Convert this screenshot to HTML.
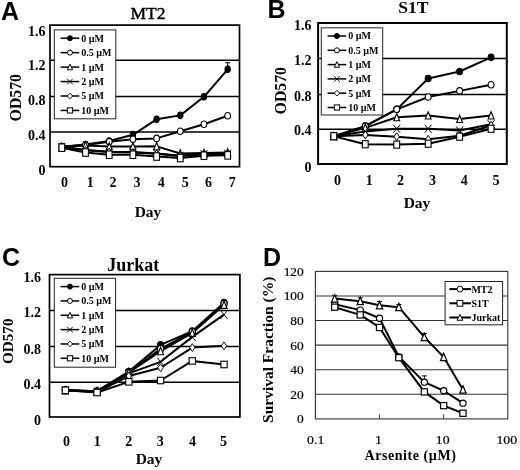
<!DOCTYPE html>
<html><head><meta charset="utf-8"><style>
html,body{margin:0;padding:0;background:#fff;}
svg{display:block;filter:blur(0.35px);}
</style></head><body>
<svg width="520" height="470" viewBox="0 0 520 470">
<rect width="520" height="470" fill="#fff"/>
<text x="1.00" y="19.80" font-family='"Liberation Sans", sans-serif' font-size="25" font-weight="bold" text-anchor="start" >A</text>
<text x="267.50" y="18.20" font-family='"Liberation Sans", sans-serif' font-size="25" font-weight="bold" text-anchor="start" >B</text>
<text x="2.00" y="265.50" font-family='"Liberation Sans", sans-serif' font-size="25" font-weight="bold" text-anchor="start" >C</text>
<text x="263.10" y="265.50" font-family='"Liberation Sans", sans-serif' font-size="25" font-weight="bold" text-anchor="start" >D</text>
<text x="148.00" y="19.00" font-family='"Liberation Serif", serif' font-size="17.5" font-weight="normal" text-anchor="middle" stroke="#000" stroke-width="0.45">MT2</text>
<text x="413.40" y="12.80" font-family='"Liberation Serif", serif' font-size="17.5" font-weight="bold" text-anchor="middle" >S1T</text>
<text x="133.30" y="270.80" font-family='"Liberation Serif", serif' font-size="18" font-weight="bold" text-anchor="middle" >Jurkat</text>
<line x1="50.00" y1="60.30" x2="239.50" y2="60.30" stroke="#000" stroke-width="1.5"/>
<line x1="50.00" y1="96.40" x2="239.50" y2="96.40" stroke="#000" stroke-width="1.5"/>
<line x1="50.00" y1="132.00" x2="239.50" y2="132.00" stroke="#000" stroke-width="1.5"/>
<rect x="50.00" y="25.10" width="189.50" height="141.60" stroke="#000" stroke-width="1.7" fill="none"/>
<polyline points="61.84,146.79 85.53,144.57 109.22,141.03 132.91,134.84 156.59,119.35 180.28,115.37 203.97,96.78 227.66,69.35" fill="none" stroke="#000" stroke-width="2.0" stroke-linejoin="round"/>
<polyline points="61.84,146.79 85.53,144.93 109.22,141.74 132.91,139.26 156.59,138.38 180.28,131.30 203.97,124.22 227.66,115.81" fill="none" stroke="#000" stroke-width="2.0" stroke-linejoin="round"/>
<polyline points="61.84,146.79 85.53,145.46 109.22,146.52 132.91,146.52 156.59,146.34 180.28,153.42 203.97,152.98 227.66,152.54" fill="none" stroke="#000" stroke-width="2.0" stroke-linejoin="round"/>
<polyline points="61.84,146.79 85.53,149.88 109.22,151.66 132.91,152.10 156.59,153.42 180.28,155.64 203.97,153.87 227.66,153.42" fill="none" stroke="#000" stroke-width="2.0" stroke-linejoin="round"/>
<polyline points="61.84,146.79 85.53,150.33 109.22,152.10 132.91,152.54 156.59,153.87 180.28,156.08 203.97,154.31 227.66,153.87" fill="none" stroke="#000" stroke-width="2.0" stroke-linejoin="round"/>
<polyline points="61.84,147.67 85.53,152.54 109.22,154.75 132.91,154.75 156.59,156.52 180.28,158.03 203.97,155.73 227.66,155.37" fill="none" stroke="#000" stroke-width="2.0" stroke-linejoin="round"/>
<ellipse cx="61.84" cy="146.79" rx="2.65" ry="3.25" fill="#000" stroke="#000" stroke-width="1.1"/>
<ellipse cx="85.53" cy="144.57" rx="2.65" ry="3.25" fill="#000" stroke="#000" stroke-width="1.1"/>
<ellipse cx="109.22" cy="141.03" rx="2.65" ry="3.25" fill="#000" stroke="#000" stroke-width="1.1"/>
<ellipse cx="132.91" cy="134.84" rx="2.65" ry="3.25" fill="#000" stroke="#000" stroke-width="1.1"/>
<ellipse cx="156.59" cy="119.35" rx="2.65" ry="3.25" fill="#000" stroke="#000" stroke-width="1.1"/>
<ellipse cx="180.28" cy="115.37" rx="2.65" ry="3.25" fill="#000" stroke="#000" stroke-width="1.1"/>
<ellipse cx="203.97" cy="96.78" rx="2.65" ry="3.25" fill="#000" stroke="#000" stroke-width="1.1"/>
<ellipse cx="227.66" cy="69.35" rx="2.65" ry="3.25" fill="#000" stroke="#000" stroke-width="1.1"/>
<ellipse cx="61.84" cy="146.79" rx="2.85" ry="3.25" fill="#fff" stroke="#000" stroke-width="1.1"/>
<ellipse cx="85.53" cy="144.93" rx="2.85" ry="3.25" fill="#fff" stroke="#000" stroke-width="1.1"/>
<ellipse cx="109.22" cy="141.74" rx="2.85" ry="3.25" fill="#fff" stroke="#000" stroke-width="1.1"/>
<ellipse cx="132.91" cy="139.26" rx="2.85" ry="3.25" fill="#fff" stroke="#000" stroke-width="1.1"/>
<ellipse cx="156.59" cy="138.38" rx="2.85" ry="3.25" fill="#fff" stroke="#000" stroke-width="1.1"/>
<ellipse cx="180.28" cy="131.30" rx="2.85" ry="3.25" fill="#fff" stroke="#000" stroke-width="1.1"/>
<ellipse cx="203.97" cy="124.22" rx="2.85" ry="3.25" fill="#fff" stroke="#000" stroke-width="1.1"/>
<ellipse cx="227.66" cy="115.81" rx="2.85" ry="3.25" fill="#fff" stroke="#000" stroke-width="1.1"/>
<polygon points="61.84,142.95 64.79,150.25 58.89,150.25" fill="#fff" stroke="#000" stroke-width="1.1" stroke-linejoin="miter"/>
<polygon points="85.53,141.63 88.48,148.93 82.58,148.93" fill="#fff" stroke="#000" stroke-width="1.1" stroke-linejoin="miter"/>
<polygon points="109.22,142.69 112.17,149.99 106.27,149.99" fill="#fff" stroke="#000" stroke-width="1.1" stroke-linejoin="miter"/>
<polygon points="132.91,142.69 135.86,149.99 129.96,149.99" fill="#fff" stroke="#000" stroke-width="1.1" stroke-linejoin="miter"/>
<polygon points="156.59,142.51 159.54,149.81 153.64,149.81" fill="#fff" stroke="#000" stroke-width="1.1" stroke-linejoin="miter"/>
<polygon points="180.28,149.59 183.23,156.89 177.33,156.89" fill="#fff" stroke="#000" stroke-width="1.1" stroke-linejoin="miter"/>
<polygon points="203.97,149.15 206.92,156.45 201.02,156.45" fill="#fff" stroke="#000" stroke-width="1.1" stroke-linejoin="miter"/>
<polygon points="227.66,148.71 230.61,156.01 224.71,156.01" fill="#fff" stroke="#000" stroke-width="1.1" stroke-linejoin="miter"/>
<path d="M58.54,142.99L65.14,150.59M58.54,150.59L65.14,142.99" stroke="#000" stroke-width="1.0" fill="none"/>
<path d="M82.23,146.08L88.83,153.69M82.23,153.69L88.83,146.08" stroke="#000" stroke-width="1.0" fill="none"/>
<path d="M105.92,147.85L112.52,155.46M105.92,155.46L112.52,147.85" stroke="#000" stroke-width="1.0" fill="none"/>
<path d="M129.61,148.30L136.21,155.90M129.61,155.90L136.21,148.30" stroke="#000" stroke-width="1.0" fill="none"/>
<path d="M153.29,149.62L159.89,157.22M153.29,157.22L159.89,149.62" stroke="#000" stroke-width="1.0" fill="none"/>
<path d="M176.98,151.84L183.58,159.44M176.98,159.44L183.58,151.84" stroke="#000" stroke-width="1.0" fill="none"/>
<path d="M200.67,150.07L207.27,157.67M200.67,157.67L207.27,150.07" stroke="#000" stroke-width="1.0" fill="none"/>
<path d="M224.36,149.62L230.96,157.22M224.36,157.22L230.96,149.62" stroke="#000" stroke-width="1.0" fill="none"/>
<polygon points="61.84,142.89 64.54,146.79 61.84,150.69 59.14,146.79" fill="#fff" stroke="#000" stroke-width="1.0"/>
<polygon points="85.53,146.43 88.23,150.33 85.53,154.23 82.83,150.33" fill="#fff" stroke="#000" stroke-width="1.0"/>
<polygon points="109.22,148.20 111.92,152.10 109.22,156.00 106.52,152.10" fill="#fff" stroke="#000" stroke-width="1.0"/>
<polygon points="132.91,148.64 135.61,152.54 132.91,156.44 130.21,152.54" fill="#fff" stroke="#000" stroke-width="1.0"/>
<polygon points="156.59,149.97 159.29,153.87 156.59,157.77 153.89,153.87" fill="#fff" stroke="#000" stroke-width="1.0"/>
<polygon points="180.28,152.18 182.98,156.08 180.28,159.98 177.58,156.08" fill="#fff" stroke="#000" stroke-width="1.0"/>
<polygon points="203.97,150.41 206.67,154.31 203.97,158.21 201.27,154.31" fill="#fff" stroke="#000" stroke-width="1.0"/>
<polygon points="227.66,149.97 230.36,153.87 227.66,157.77 224.96,153.87" fill="#fff" stroke="#000" stroke-width="1.0"/>
<rect x="58.99" y="143.92" width="5.70" height="7.50" fill="#fff" stroke="#000" stroke-width="1.1"/>
<rect x="82.68" y="148.79" width="5.70" height="7.50" fill="#fff" stroke="#000" stroke-width="1.1"/>
<rect x="106.37" y="151.00" width="5.70" height="7.50" fill="#fff" stroke="#000" stroke-width="1.1"/>
<rect x="130.06" y="151.00" width="5.70" height="7.50" fill="#fff" stroke="#000" stroke-width="1.1"/>
<rect x="153.74" y="152.77" width="5.70" height="7.50" fill="#fff" stroke="#000" stroke-width="1.1"/>
<rect x="177.43" y="154.28" width="5.70" height="7.50" fill="#fff" stroke="#000" stroke-width="1.1"/>
<rect x="201.12" y="151.98" width="5.70" height="7.50" fill="#fff" stroke="#000" stroke-width="1.1"/>
<rect x="224.81" y="151.62" width="5.70" height="7.50" fill="#fff" stroke="#000" stroke-width="1.1"/>
<line x1="227.66" y1="69.35" x2="227.66" y2="62.71" stroke="#000" stroke-width="1.0"/>
<line x1="225.16" y1="62.71" x2="230.16" y2="62.71" stroke="#000" stroke-width="1.0"/>
<rect x="54.30" y="29.90" width="61.50" height="88.90" stroke="#222" stroke-width="1.0" fill="#fff"/>
<line x1="60.60" y1="38.20" x2="79.30" y2="38.20" stroke="#000" stroke-width="1.5"/>
<ellipse cx="69.95" cy="38.20" rx="2.50" ry="2.50" fill="#000" stroke="#000" stroke-width="1.0"/>
<text x="81.30" y="41.60" font-family='"Liberation Serif", serif' font-size="10" font-weight="bold" text-anchor="start" >0 &#181;M</text>
<line x1="60.60" y1="52.65" x2="79.30" y2="52.65" stroke="#000" stroke-width="1.5"/>
<ellipse cx="69.95" cy="52.65" rx="2.50" ry="2.50" fill="#fff" stroke="#000" stroke-width="1.0"/>
<text x="81.30" y="56.05" font-family='"Liberation Serif", serif' font-size="10" font-weight="bold" text-anchor="start" >0.5 &#181;M</text>
<line x1="60.60" y1="67.10" x2="79.30" y2="67.10" stroke="#000" stroke-width="1.5"/>
<polygon points="69.95,64.16 72.65,69.76 67.25,69.76" fill="#fff" stroke="#000" stroke-width="1.0" stroke-linejoin="miter"/>
<text x="81.30" y="70.50" font-family='"Liberation Serif", serif' font-size="10" font-weight="bold" text-anchor="start" >1 &#181;M</text>
<line x1="60.60" y1="81.55" x2="79.30" y2="81.55" stroke="#000" stroke-width="1.5"/>
<path d="M67.10,78.70L72.80,84.40M67.10,84.40L72.80,78.70" stroke="#000" stroke-width="0.9" fill="none"/>
<text x="81.30" y="84.95" font-family='"Liberation Serif", serif' font-size="10" font-weight="bold" text-anchor="start" >2 &#181;M</text>
<line x1="60.60" y1="96.00" x2="79.30" y2="96.00" stroke="#000" stroke-width="1.5"/>
<polygon points="69.95,93.15 72.60,96.00 69.95,98.85 67.30,96.00" fill="#fff" stroke="#000" stroke-width="0.9"/>
<text x="81.30" y="99.40" font-family='"Liberation Serif", serif' font-size="10" font-weight="bold" text-anchor="start" >5 &#181;M</text>
<line x1="60.60" y1="110.45" x2="79.30" y2="110.45" stroke="#000" stroke-width="1.5"/>
<rect x="67.35" y="107.85" width="5.20" height="5.20" fill="#fff" stroke="#000" stroke-width="1.0"/>
<text x="81.30" y="113.85" font-family='"Liberation Serif", serif' font-size="10" font-weight="bold" text-anchor="start" >10 &#181;M</text>
<text x="45.60" y="35.60" font-family='"Liberation Serif", serif' font-size="14" font-weight="bold" text-anchor="end" >1.6</text>
<text x="45.60" y="69.80" font-family='"Liberation Serif", serif' font-size="14" font-weight="bold" text-anchor="end" >1.2</text>
<text x="45.60" y="104.60" font-family='"Liberation Serif", serif' font-size="14" font-weight="bold" text-anchor="end" >0.8</text>
<text x="45.60" y="139.90" font-family='"Liberation Serif", serif' font-size="14" font-weight="bold" text-anchor="end" >0.4</text>
<text x="45.60" y="174.90" font-family='"Liberation Serif", serif' font-size="14" font-weight="bold" text-anchor="end" >0</text>
<text x="64.60" y="186.80" font-family='"Liberation Serif", serif' font-size="14" font-weight="bold" text-anchor="middle" >0</text>
<text x="90.20" y="186.80" font-family='"Liberation Serif", serif' font-size="14" font-weight="bold" text-anchor="middle" >1</text>
<text x="113.00" y="186.80" font-family='"Liberation Serif", serif' font-size="14" font-weight="bold" text-anchor="middle" >2</text>
<text x="137.00" y="186.80" font-family='"Liberation Serif", serif' font-size="14" font-weight="bold" text-anchor="middle" >3</text>
<text x="161.20" y="186.80" font-family='"Liberation Serif", serif' font-size="14" font-weight="bold" text-anchor="middle" >4</text>
<text x="185.30" y="186.80" font-family='"Liberation Serif", serif' font-size="14" font-weight="bold" text-anchor="middle" >5</text>
<text x="208.60" y="186.80" font-family='"Liberation Serif", serif' font-size="14" font-weight="bold" text-anchor="middle" >6</text>
<text x="232.20" y="186.80" font-family='"Liberation Serif", serif' font-size="14" font-weight="bold" text-anchor="middle" >7</text>
<line x1="318.10" y1="58.60" x2="506.80" y2="58.60" stroke="#000" stroke-width="1.5"/>
<line x1="318.10" y1="94.40" x2="506.80" y2="94.40" stroke="#000" stroke-width="1.5"/>
<line x1="318.10" y1="129.20" x2="506.80" y2="129.20" stroke="#000" stroke-width="1.5"/>
<rect x="318.10" y="23.00" width="188.70" height="141.00" stroke="#000" stroke-width="2.0" fill="none"/>
<polyline points="333.83,136.24 365.28,126.11 396.73,109.36 428.18,78.52 459.62,71.47 491.08,57.37" fill="none" stroke="#000" stroke-width="2.0" stroke-linejoin="round"/>
<polyline points="333.83,136.24 365.28,126.11 396.73,109.36 428.18,97.03 459.62,90.86 491.08,84.69" fill="none" stroke="#000" stroke-width="2.0" stroke-linejoin="round"/>
<polyline points="333.83,136.24 365.28,127.87 396.73,117.29 428.18,115.53 459.62,119.06 491.08,115.53" fill="none" stroke="#000" stroke-width="2.0" stroke-linejoin="round"/>
<polyline points="333.83,136.24 365.28,131.39 396.73,128.75 428.18,128.75 459.62,130.51 491.08,124.34" fill="none" stroke="#000" stroke-width="2.0" stroke-linejoin="round"/>
<polyline points="333.83,136.24 365.28,134.92 396.73,136.68 428.18,139.32 459.62,135.80 491.08,125.22" fill="none" stroke="#000" stroke-width="2.0" stroke-linejoin="round"/>
<polyline points="333.83,136.24 365.28,144.26 396.73,144.61 428.18,143.73 459.62,136.68 491.08,128.75" fill="none" stroke="#000" stroke-width="2.0" stroke-linejoin="round"/>
<ellipse cx="333.83" cy="136.24" rx="2.95" ry="3.25" fill="#000" stroke="#000" stroke-width="1.1"/>
<ellipse cx="365.28" cy="126.11" rx="2.95" ry="3.25" fill="#000" stroke="#000" stroke-width="1.1"/>
<ellipse cx="396.73" cy="109.36" rx="2.95" ry="3.25" fill="#000" stroke="#000" stroke-width="1.1"/>
<ellipse cx="428.18" cy="78.52" rx="2.95" ry="3.25" fill="#000" stroke="#000" stroke-width="1.1"/>
<ellipse cx="459.62" cy="71.47" rx="2.95" ry="3.25" fill="#000" stroke="#000" stroke-width="1.1"/>
<ellipse cx="491.08" cy="57.37" rx="2.95" ry="3.25" fill="#000" stroke="#000" stroke-width="1.1"/>
<ellipse cx="333.83" cy="136.24" rx="2.95" ry="3.25" fill="#fff" stroke="#000" stroke-width="1.1"/>
<ellipse cx="365.28" cy="126.11" rx="2.95" ry="3.25" fill="#fff" stroke="#000" stroke-width="1.1"/>
<ellipse cx="396.73" cy="109.36" rx="2.95" ry="3.25" fill="#fff" stroke="#000" stroke-width="1.1"/>
<ellipse cx="428.18" cy="97.03" rx="2.95" ry="3.25" fill="#fff" stroke="#000" stroke-width="1.1"/>
<ellipse cx="459.62" cy="90.86" rx="2.95" ry="3.25" fill="#fff" stroke="#000" stroke-width="1.1"/>
<ellipse cx="491.08" cy="84.69" rx="2.95" ry="3.25" fill="#fff" stroke="#000" stroke-width="1.1"/>
<polygon points="333.83,132.41 336.78,139.71 330.88,139.71" fill="#fff" stroke="#000" stroke-width="1.1" stroke-linejoin="miter"/>
<polygon points="365.28,124.04 368.23,131.34 362.33,131.34" fill="#fff" stroke="#000" stroke-width="1.1" stroke-linejoin="miter"/>
<polygon points="396.73,113.46 399.68,120.76 393.78,120.76" fill="#fff" stroke="#000" stroke-width="1.1" stroke-linejoin="miter"/>
<polygon points="428.18,111.70 431.12,119.00 425.23,119.00" fill="#fff" stroke="#000" stroke-width="1.1" stroke-linejoin="miter"/>
<polygon points="459.62,115.22 462.57,122.52 456.68,122.52" fill="#fff" stroke="#000" stroke-width="1.1" stroke-linejoin="miter"/>
<polygon points="491.08,111.70 494.03,119.00 488.13,119.00" fill="#fff" stroke="#000" stroke-width="1.1" stroke-linejoin="miter"/>
<path d="M330.33,132.14L337.33,140.34M330.33,140.34L337.33,132.14" stroke="#000" stroke-width="1.0" fill="none"/>
<path d="M361.78,127.29L368.78,135.49M361.78,135.49L368.78,127.29" stroke="#000" stroke-width="1.0" fill="none"/>
<path d="M393.23,124.65L400.23,132.85M393.23,132.85L400.23,124.65" stroke="#000" stroke-width="1.0" fill="none"/>
<path d="M424.68,124.65L431.68,132.85M424.68,132.85L431.68,124.65" stroke="#000" stroke-width="1.0" fill="none"/>
<path d="M456.12,126.41L463.12,134.61M456.12,134.61L463.12,126.41" stroke="#000" stroke-width="1.0" fill="none"/>
<path d="M487.58,120.24L494.58,128.44M487.58,128.44L494.58,120.24" stroke="#000" stroke-width="1.0" fill="none"/>
<polygon points="333.83,132.34 336.53,136.24 333.83,140.14 331.13,136.24" fill="#fff" stroke="#000" stroke-width="1.0"/>
<polygon points="365.28,131.02 367.98,134.92 365.28,138.82 362.58,134.92" fill="#fff" stroke="#000" stroke-width="1.0"/>
<polygon points="396.73,132.78 399.43,136.68 396.73,140.58 394.03,136.68" fill="#fff" stroke="#000" stroke-width="1.0"/>
<polygon points="428.18,135.42 430.88,139.32 428.18,143.22 425.48,139.32" fill="#fff" stroke="#000" stroke-width="1.0"/>
<polygon points="459.62,131.90 462.32,135.80 459.62,139.70 456.93,135.80" fill="#fff" stroke="#000" stroke-width="1.0"/>
<polygon points="491.08,121.32 493.78,125.22 491.08,129.12 488.38,125.22" fill="#fff" stroke="#000" stroke-width="1.0"/>
<rect x="330.93" y="132.69" width="5.80" height="7.10" fill="#fff" stroke="#000" stroke-width="1.1"/>
<rect x="362.38" y="140.71" width="5.80" height="7.10" fill="#fff" stroke="#000" stroke-width="1.1"/>
<rect x="393.83" y="141.06" width="5.80" height="7.10" fill="#fff" stroke="#000" stroke-width="1.1"/>
<rect x="425.28" y="140.18" width="5.80" height="7.10" fill="#fff" stroke="#000" stroke-width="1.1"/>
<rect x="456.73" y="133.13" width="5.80" height="7.10" fill="#fff" stroke="#000" stroke-width="1.1"/>
<rect x="488.18" y="125.20" width="5.80" height="7.10" fill="#fff" stroke="#000" stroke-width="1.1"/>
<rect x="321.30" y="27.80" width="61.40" height="87.20" stroke="#222" stroke-width="1.0" fill="#fff"/>
<line x1="327.60" y1="36.00" x2="346.30" y2="36.00" stroke="#000" stroke-width="1.5"/>
<ellipse cx="336.95" cy="36.00" rx="2.50" ry="2.50" fill="#000" stroke="#000" stroke-width="1.0"/>
<text x="348.30" y="39.40" font-family='"Liberation Serif", serif' font-size="10" font-weight="bold" text-anchor="start" >0 &#181;M</text>
<line x1="327.60" y1="50.30" x2="346.30" y2="50.30" stroke="#000" stroke-width="1.5"/>
<ellipse cx="336.95" cy="50.30" rx="2.50" ry="2.50" fill="#fff" stroke="#000" stroke-width="1.0"/>
<text x="348.30" y="53.70" font-family='"Liberation Serif", serif' font-size="10" font-weight="bold" text-anchor="start" >0.5 &#181;M</text>
<line x1="327.60" y1="64.60" x2="346.30" y2="64.60" stroke="#000" stroke-width="1.5"/>
<polygon points="336.95,61.66 339.65,67.26 334.25,67.26" fill="#fff" stroke="#000" stroke-width="1.0" stroke-linejoin="miter"/>
<text x="348.30" y="68.00" font-family='"Liberation Serif", serif' font-size="10" font-weight="bold" text-anchor="start" >1 &#181;M</text>
<line x1="327.60" y1="78.90" x2="346.30" y2="78.90" stroke="#000" stroke-width="1.5"/>
<path d="M334.10,76.05L339.80,81.75M334.10,81.75L339.80,76.05" stroke="#000" stroke-width="0.9" fill="none"/>
<text x="348.30" y="82.30" font-family='"Liberation Serif", serif' font-size="10" font-weight="bold" text-anchor="start" >2 &#181;M</text>
<line x1="327.60" y1="93.20" x2="346.30" y2="93.20" stroke="#000" stroke-width="1.5"/>
<polygon points="336.95,90.35 339.60,93.20 336.95,96.05 334.30,93.20" fill="#fff" stroke="#000" stroke-width="0.9"/>
<text x="348.30" y="96.60" font-family='"Liberation Serif", serif' font-size="10" font-weight="bold" text-anchor="start" >5 &#181;M</text>
<line x1="327.60" y1="107.50" x2="346.30" y2="107.50" stroke="#000" stroke-width="1.5"/>
<rect x="334.35" y="104.90" width="5.20" height="5.20" fill="#fff" stroke="#000" stroke-width="1.0"/>
<text x="348.30" y="110.90" font-family='"Liberation Serif", serif' font-size="10" font-weight="bold" text-anchor="start" >10 &#181;M</text>
<text x="311.40" y="29.90" font-family='"Liberation Serif", serif' font-size="14" font-weight="bold" text-anchor="end" >1.6</text>
<text x="311.40" y="65.00" font-family='"Liberation Serif", serif' font-size="14" font-weight="bold" text-anchor="end" >1.2</text>
<text x="311.40" y="100.70" font-family='"Liberation Serif", serif' font-size="14" font-weight="bold" text-anchor="end" >0.8</text>
<text x="311.40" y="135.00" font-family='"Liberation Serif", serif' font-size="14" font-weight="bold" text-anchor="end" >0.4</text>
<text x="311.40" y="171.70" font-family='"Liberation Serif", serif' font-size="14" font-weight="bold" text-anchor="end" >0</text>
<text x="337.60" y="184.50" font-family='"Liberation Serif", serif' font-size="14" font-weight="bold" text-anchor="middle" >0</text>
<text x="369.20" y="184.50" font-family='"Liberation Serif", serif' font-size="14" font-weight="bold" text-anchor="middle" >1</text>
<text x="400.40" y="184.50" font-family='"Liberation Serif", serif' font-size="14" font-weight="bold" text-anchor="middle" >2</text>
<text x="432.50" y="184.50" font-family='"Liberation Serif", serif' font-size="14" font-weight="bold" text-anchor="middle" >3</text>
<text x="464.30" y="184.50" font-family='"Liberation Serif", serif' font-size="14" font-weight="bold" text-anchor="middle" >4</text>
<text x="495.90" y="184.50" font-family='"Liberation Serif", serif' font-size="14" font-weight="bold" text-anchor="middle" >5</text>
<line x1="49.50" y1="310.40" x2="239.90" y2="310.40" stroke="#000" stroke-width="1.5"/>
<line x1="49.50" y1="346.50" x2="239.90" y2="346.50" stroke="#000" stroke-width="1.5"/>
<line x1="49.50" y1="382.30" x2="239.90" y2="382.30" stroke="#000" stroke-width="1.5"/>
<rect x="49.50" y="274.60" width="190.40" height="142.40" stroke="#000" stroke-width="1.7" fill="none"/>
<polyline points="65.37,390.30 97.10,391.19 128.83,371.61 160.57,344.91 192.30,331.12 224.03,302.64" fill="none" stroke="#000" stroke-width="2.0" stroke-linejoin="round"/>
<polyline points="65.37,390.30 97.10,391.19 128.83,372.50 160.57,348.92 192.30,332.00 224.03,303.97" fill="none" stroke="#000" stroke-width="2.0" stroke-linejoin="round"/>
<polyline points="65.37,390.30 97.10,391.19 128.83,372.50 160.57,351.14 192.30,332.90 224.03,304.86" fill="none" stroke="#000" stroke-width="2.0" stroke-linejoin="round"/>
<polyline points="65.37,390.30 97.10,391.63 128.83,373.39 160.57,361.82 192.30,336.90 224.03,314.65" fill="none" stroke="#000" stroke-width="2.0" stroke-linejoin="round"/>
<polyline points="65.37,390.30 97.10,392.08 128.83,376.06 160.57,367.78 192.30,347.58 224.03,345.80" fill="none" stroke="#000" stroke-width="2.0" stroke-linejoin="round"/>
<polyline points="65.37,390.30 97.10,392.52 128.83,381.85 160.57,380.51 192.30,360.93 224.03,364.49" fill="none" stroke="#000" stroke-width="2.0" stroke-linejoin="round"/>
<ellipse cx="65.37" cy="390.30" rx="3.05" ry="3.25" fill="#000" stroke="#000" stroke-width="1.1"/>
<ellipse cx="97.10" cy="391.19" rx="3.05" ry="3.25" fill="#000" stroke="#000" stroke-width="1.1"/>
<ellipse cx="128.83" cy="371.61" rx="3.05" ry="3.25" fill="#000" stroke="#000" stroke-width="1.1"/>
<ellipse cx="160.57" cy="344.91" rx="3.05" ry="3.25" fill="#000" stroke="#000" stroke-width="1.1"/>
<ellipse cx="192.30" cy="331.12" rx="3.05" ry="3.25" fill="#000" stroke="#000" stroke-width="1.1"/>
<ellipse cx="224.03" cy="302.64" rx="3.05" ry="3.25" fill="#000" stroke="#000" stroke-width="1.1"/>
<ellipse cx="65.37" cy="390.30" rx="3.10" ry="3.45" fill="#fff" stroke="#000" stroke-width="1.1"/>
<ellipse cx="97.10" cy="391.19" rx="3.10" ry="3.45" fill="#fff" stroke="#000" stroke-width="1.1"/>
<ellipse cx="128.83" cy="372.50" rx="3.10" ry="3.45" fill="#fff" stroke="#000" stroke-width="1.1"/>
<ellipse cx="160.57" cy="348.92" rx="3.10" ry="3.45" fill="#fff" stroke="#000" stroke-width="1.1"/>
<ellipse cx="192.30" cy="332.00" rx="3.10" ry="3.45" fill="#fff" stroke="#000" stroke-width="1.1"/>
<ellipse cx="224.03" cy="303.97" rx="3.10" ry="3.45" fill="#fff" stroke="#000" stroke-width="1.1"/>
<polygon points="65.37,386.36 68.42,393.86 62.32,393.86" fill="#fff" stroke="#000" stroke-width="1.1" stroke-linejoin="miter"/>
<polygon points="97.10,387.25 100.15,394.75 94.05,394.75" fill="#fff" stroke="#000" stroke-width="1.1" stroke-linejoin="miter"/>
<polygon points="128.83,368.56 131.88,376.06 125.78,376.06" fill="#fff" stroke="#000" stroke-width="1.1" stroke-linejoin="miter"/>
<polygon points="160.57,347.20 163.62,354.70 157.52,354.70" fill="#fff" stroke="#000" stroke-width="1.1" stroke-linejoin="miter"/>
<polygon points="192.30,328.96 195.35,336.46 189.25,336.46" fill="#fff" stroke="#000" stroke-width="1.1" stroke-linejoin="miter"/>
<polygon points="224.03,300.92 227.08,308.42 220.98,308.42" fill="#fff" stroke="#000" stroke-width="1.1" stroke-linejoin="miter"/>
<path d="M61.92,386.05L68.82,394.55M61.92,394.55L68.82,386.05" stroke="#000" stroke-width="0.9" fill="none"/>
<path d="M93.65,387.38L100.55,395.88M93.65,395.88L100.55,387.38" stroke="#000" stroke-width="0.9" fill="none"/>
<path d="M125.38,369.14L132.28,377.64M125.38,377.64L132.28,369.14" stroke="#000" stroke-width="0.9" fill="none"/>
<path d="M157.12,357.57L164.02,366.07M157.12,366.07L164.02,357.57" stroke="#000" stroke-width="0.9" fill="none"/>
<path d="M188.85,332.65L195.75,341.15M188.85,341.15L195.75,332.65" stroke="#000" stroke-width="0.9" fill="none"/>
<path d="M220.58,310.40L227.48,318.90M220.58,318.90L227.48,310.40" stroke="#000" stroke-width="0.9" fill="none"/>
<polygon points="65.37,386.35 68.02,390.30 65.37,394.25 62.72,390.30" fill="#fff" stroke="#000" stroke-width="0.9"/>
<polygon points="97.10,388.13 99.75,392.08 97.10,396.03 94.45,392.08" fill="#fff" stroke="#000" stroke-width="0.9"/>
<polygon points="128.83,372.11 131.48,376.06 128.83,380.01 126.18,376.06" fill="#fff" stroke="#000" stroke-width="0.9"/>
<polygon points="160.57,363.83 163.22,367.78 160.57,371.73 157.92,367.78" fill="#fff" stroke="#000" stroke-width="0.9"/>
<polygon points="192.30,343.63 194.95,347.58 192.30,351.53 189.65,347.58" fill="#fff" stroke="#000" stroke-width="0.9"/>
<polygon points="224.03,341.85 226.68,345.80 224.03,349.75 221.38,345.80" fill="#fff" stroke="#000" stroke-width="0.9"/>
<rect x="62.22" y="387.05" width="6.30" height="6.50" fill="#fff" stroke="#000" stroke-width="1.1"/>
<rect x="93.95" y="389.27" width="6.30" height="6.50" fill="#fff" stroke="#000" stroke-width="1.1"/>
<rect x="125.68" y="378.60" width="6.30" height="6.50" fill="#fff" stroke="#000" stroke-width="1.1"/>
<rect x="157.42" y="377.26" width="6.30" height="6.50" fill="#fff" stroke="#000" stroke-width="1.1"/>
<rect x="189.15" y="357.68" width="6.30" height="6.50" fill="#fff" stroke="#000" stroke-width="1.1"/>
<rect x="220.88" y="361.24" width="6.30" height="6.50" fill="#fff" stroke="#000" stroke-width="1.1"/>
<rect x="54.30" y="278.30" width="61.30" height="88.90" stroke="#222" stroke-width="1.0" fill="#fff"/>
<line x1="60.60" y1="286.60" x2="79.30" y2="286.60" stroke="#000" stroke-width="1.5"/>
<ellipse cx="69.95" cy="286.60" rx="2.50" ry="2.50" fill="#000" stroke="#000" stroke-width="1.0"/>
<text x="81.30" y="290.00" font-family='"Liberation Serif", serif' font-size="10" font-weight="bold" text-anchor="start" >0 &#181;M</text>
<line x1="60.60" y1="300.94" x2="79.30" y2="300.94" stroke="#000" stroke-width="1.5"/>
<ellipse cx="69.95" cy="300.94" rx="2.50" ry="2.50" fill="#fff" stroke="#000" stroke-width="1.0"/>
<text x="81.30" y="304.34" font-family='"Liberation Serif", serif' font-size="10" font-weight="bold" text-anchor="start" >0.5 &#181;M</text>
<line x1="60.60" y1="315.28" x2="79.30" y2="315.28" stroke="#000" stroke-width="1.5"/>
<polygon points="69.95,312.34 72.65,317.94 67.25,317.94" fill="#fff" stroke="#000" stroke-width="1.0" stroke-linejoin="miter"/>
<text x="81.30" y="318.68" font-family='"Liberation Serif", serif' font-size="10" font-weight="bold" text-anchor="start" >1 &#181;M</text>
<line x1="60.60" y1="329.62" x2="79.30" y2="329.62" stroke="#000" stroke-width="1.5"/>
<path d="M67.10,326.77L72.80,332.47M67.10,332.47L72.80,326.77" stroke="#000" stroke-width="0.9" fill="none"/>
<text x="81.30" y="333.02" font-family='"Liberation Serif", serif' font-size="10" font-weight="bold" text-anchor="start" >2 &#181;M</text>
<line x1="60.60" y1="343.96" x2="79.30" y2="343.96" stroke="#000" stroke-width="1.5"/>
<polygon points="69.95,341.11 72.60,343.96 69.95,346.81 67.30,343.96" fill="#fff" stroke="#000" stroke-width="0.9"/>
<text x="81.30" y="347.36" font-family='"Liberation Serif", serif' font-size="10" font-weight="bold" text-anchor="start" >5 &#181;M</text>
<line x1="60.60" y1="358.30" x2="79.30" y2="358.30" stroke="#000" stroke-width="1.5"/>
<rect x="67.35" y="355.70" width="5.20" height="5.20" fill="#fff" stroke="#000" stroke-width="1.0"/>
<text x="81.30" y="361.70" font-family='"Liberation Serif", serif' font-size="10" font-weight="bold" text-anchor="start" >10 &#181;M</text>
<text x="41.00" y="281.80" font-family='"Liberation Serif", serif' font-size="14" font-weight="bold" text-anchor="end" >1.6</text>
<text x="41.00" y="317.20" font-family='"Liberation Serif", serif' font-size="14" font-weight="bold" text-anchor="end" >1.2</text>
<text x="41.00" y="353.60" font-family='"Liberation Serif", serif' font-size="14" font-weight="bold" text-anchor="end" >0.8</text>
<text x="41.00" y="388.80" font-family='"Liberation Serif", serif' font-size="14" font-weight="bold" text-anchor="end" >0.4</text>
<text x="41.00" y="425.20" font-family='"Liberation Serif", serif' font-size="14" font-weight="bold" text-anchor="end" >0</text>
<text x="66.40" y="446.20" font-family='"Liberation Serif", serif' font-size="14" font-weight="bold" text-anchor="middle" >0</text>
<text x="97.20" y="446.20" font-family='"Liberation Serif", serif' font-size="14" font-weight="bold" text-anchor="middle" >1</text>
<text x="128.80" y="446.20" font-family='"Liberation Serif", serif' font-size="14" font-weight="bold" text-anchor="middle" >2</text>
<text x="160.30" y="446.20" font-family='"Liberation Serif", serif' font-size="14" font-weight="bold" text-anchor="middle" >3</text>
<text x="192.60" y="446.20" font-family='"Liberation Serif", serif' font-size="14" font-weight="bold" text-anchor="middle" >4</text>
<text x="223.60" y="446.20" font-family='"Liberation Serif", serif' font-size="14" font-weight="bold" text-anchor="middle" >5</text>
<line x1="315.40" y1="394.32" x2="507.80" y2="394.32" stroke="#333" stroke-width="1.1"/>
<line x1="315.40" y1="369.73" x2="507.80" y2="369.73" stroke="#333" stroke-width="1.1"/>
<line x1="315.40" y1="345.15" x2="507.80" y2="345.15" stroke="#333" stroke-width="1.1"/>
<line x1="315.40" y1="320.57" x2="507.80" y2="320.57" stroke="#333" stroke-width="1.1"/>
<line x1="315.40" y1="295.98" x2="507.80" y2="295.98" stroke="#333" stroke-width="1.1"/>
<rect x="315.40" y="271.40" width="192.40" height="147.50" stroke="#333" stroke-width="1.1" fill="none"/>
<line x1="379.53" y1="418.90" x2="379.53" y2="414.40" stroke="#333" stroke-width="1.0"/>
<line x1="443.67" y1="418.90" x2="443.67" y2="414.40" stroke="#333" stroke-width="1.0"/>
<polyline points="334.71,304.34 360.23,310.12 379.53,318.23 398.84,356.83 424.36,382.15 443.67,390.75 462.97,403.17" fill="none" stroke="#000" stroke-width="2.0" stroke-linejoin="round"/>
<polyline points="334.71,307.17 360.23,314.91 379.53,327.45 398.84,357.69 424.36,391.86 443.67,405.62 462.97,413.25" fill="none" stroke="#000" stroke-width="2.0" stroke-linejoin="round"/>
<polyline points="334.71,298.56 360.23,301.15 379.53,305.32 398.84,307.17 424.36,337.04 443.67,357.07 462.97,389.65" fill="none" stroke="#000" stroke-width="2.0" stroke-linejoin="round"/>
<line x1="334.71" y1="298.56" x2="334.71" y2="295.37" stroke="#000" stroke-width="1.0"/>
<line x1="332.21" y1="295.37" x2="337.21" y2="295.37" stroke="#000" stroke-width="1.0"/>
<line x1="360.23" y1="301.15" x2="360.23" y2="297.83" stroke="#000" stroke-width="1.0"/>
<line x1="357.73" y1="297.83" x2="362.73" y2="297.83" stroke="#000" stroke-width="1.0"/>
<line x1="379.53" y1="305.32" x2="379.53" y2="301.51" stroke="#000" stroke-width="1.0"/>
<line x1="377.03" y1="301.51" x2="382.03" y2="301.51" stroke="#000" stroke-width="1.0"/>
<line x1="398.84" y1="307.17" x2="398.84" y2="304.59" stroke="#000" stroke-width="1.0"/>
<line x1="396.34" y1="304.59" x2="401.34" y2="304.59" stroke="#000" stroke-width="1.0"/>
<line x1="424.36" y1="337.04" x2="424.36" y2="333.47" stroke="#000" stroke-width="1.0"/>
<line x1="421.86" y1="333.47" x2="426.86" y2="333.47" stroke="#000" stroke-width="1.0"/>
<line x1="424.36" y1="382.15" x2="424.36" y2="375.88" stroke="#000" stroke-width="1.0"/>
<line x1="421.86" y1="375.88" x2="426.86" y2="375.88" stroke="#000" stroke-width="1.0"/>
<ellipse cx="334.71" cy="304.34" rx="3.10" ry="3.10" fill="#fff" stroke="#000" stroke-width="1.2"/>
<ellipse cx="360.23" cy="310.12" rx="3.10" ry="3.10" fill="#fff" stroke="#000" stroke-width="1.2"/>
<ellipse cx="379.53" cy="318.23" rx="3.10" ry="3.10" fill="#fff" stroke="#000" stroke-width="1.2"/>
<ellipse cx="398.84" cy="356.83" rx="3.10" ry="3.10" fill="#fff" stroke="#000" stroke-width="1.2"/>
<ellipse cx="424.36" cy="382.15" rx="3.10" ry="3.10" fill="#fff" stroke="#000" stroke-width="1.2"/>
<ellipse cx="443.67" cy="390.75" rx="3.10" ry="3.10" fill="#fff" stroke="#000" stroke-width="1.2"/>
<ellipse cx="462.97" cy="403.17" rx="3.10" ry="3.10" fill="#fff" stroke="#000" stroke-width="1.2"/>
<rect x="331.61" y="304.07" width="6.20" height="6.20" fill="#fff" stroke="#000" stroke-width="1.2"/>
<rect x="357.13" y="311.81" width="6.20" height="6.20" fill="#fff" stroke="#000" stroke-width="1.2"/>
<rect x="376.43" y="324.35" width="6.20" height="6.20" fill="#fff" stroke="#000" stroke-width="1.2"/>
<rect x="395.74" y="354.59" width="6.20" height="6.20" fill="#fff" stroke="#000" stroke-width="1.2"/>
<rect x="421.26" y="388.76" width="6.20" height="6.20" fill="#fff" stroke="#000" stroke-width="1.2"/>
<rect x="440.57" y="402.52" width="6.20" height="6.20" fill="#fff" stroke="#000" stroke-width="1.2"/>
<rect x="459.87" y="410.15" width="6.20" height="6.20" fill="#fff" stroke="#000" stroke-width="1.2"/>
<polygon points="334.71,294.68 337.91,302.08 331.51,302.08" fill="#fff" stroke="#000" stroke-width="1.2" stroke-linejoin="miter"/>
<polygon points="360.23,297.26 363.43,304.66 357.03,304.66" fill="#fff" stroke="#000" stroke-width="1.2" stroke-linejoin="miter"/>
<polygon points="379.53,301.44 382.73,308.84 376.33,308.84" fill="#fff" stroke="#000" stroke-width="1.2" stroke-linejoin="miter"/>
<polygon points="398.84,303.28 402.04,310.68 395.64,310.68" fill="#fff" stroke="#000" stroke-width="1.2" stroke-linejoin="miter"/>
<polygon points="424.36,333.15 427.56,340.55 421.16,340.55" fill="#fff" stroke="#000" stroke-width="1.2" stroke-linejoin="miter"/>
<polygon points="443.67,353.19 446.87,360.59 440.47,360.59" fill="#fff" stroke="#000" stroke-width="1.2" stroke-linejoin="miter"/>
<polygon points="462.97,385.76 466.17,393.16 459.77,393.16" fill="#fff" stroke="#000" stroke-width="1.2" stroke-linejoin="miter"/>
<rect x="445.10" y="281.50" width="57.50" height="43.30" stroke="#222" stroke-width="1.0" fill="#fff"/>
<line x1="449.40" y1="289.10" x2="471.00" y2="289.10" stroke="#000" stroke-width="2.0"/>
<ellipse cx="459.90" cy="289.10" rx="2.90" ry="2.90" fill="#fff" stroke="#000" stroke-width="1.0"/>
<text x="471.40" y="292.50" font-family='"Liberation Serif", serif' font-size="10" font-weight="bold" text-anchor="start" >MT2</text>
<line x1="449.40" y1="303.30" x2="471.00" y2="303.30" stroke="#000" stroke-width="2.0"/>
<rect x="457.00" y="300.40" width="5.80" height="5.80" fill="#fff" stroke="#000" stroke-width="1.0"/>
<text x="471.40" y="306.70" font-family='"Liberation Serif", serif' font-size="10" font-weight="bold" text-anchor="start" >S1T</text>
<line x1="449.40" y1="317.50" x2="471.00" y2="317.50" stroke="#000" stroke-width="2.0"/>
<polygon points="459.90,314.45 462.80,320.25 457.00,320.25" fill="#fff" stroke="#000" stroke-width="1.0" stroke-linejoin="miter"/>
<text x="471.40" y="320.90" font-family='"Liberation Serif", serif' font-size="10" font-weight="bold" text-anchor="start" >Jurkat</text>
<text x="0" y="0" font-family='"Liberation Serif", serif' font-size="11.9" text-anchor="end" stroke="#000" stroke-width="0.18" transform="translate(303.8,275.80) scale(1.13,1)">120</text>
<text x="0" y="0" font-family='"Liberation Serif", serif' font-size="11.9" text-anchor="end" stroke="#000" stroke-width="0.18" transform="translate(303.8,300.40) scale(1.13,1)">100</text>
<text x="0" y="0" font-family='"Liberation Serif", serif' font-size="11.9" text-anchor="end" stroke="#000" stroke-width="0.18" transform="translate(303.8,325.00) scale(1.13,1)">80</text>
<text x="0" y="0" font-family='"Liberation Serif", serif' font-size="11.9" text-anchor="end" stroke="#000" stroke-width="0.18" transform="translate(303.8,349.60) scale(1.13,1)">60</text>
<text x="0" y="0" font-family='"Liberation Serif", serif' font-size="11.9" text-anchor="end" stroke="#000" stroke-width="0.18" transform="translate(303.8,374.20) scale(1.13,1)">40</text>
<text x="0" y="0" font-family='"Liberation Serif", serif' font-size="11.9" text-anchor="end" stroke="#000" stroke-width="0.18" transform="translate(303.8,398.80) scale(1.13,1)">20</text>
<text x="0" y="0" font-family='"Liberation Serif", serif' font-size="11.9" text-anchor="end" stroke="#000" stroke-width="0.18" transform="translate(303.8,423.40) scale(1.13,1)">0</text>
<text x="0" y="0" font-family='"Liberation Serif", serif' font-size="11.9" text-anchor="middle" stroke="#000" stroke-width="0.18" transform="translate(315.70,443.6) scale(1.16,1)">0.1</text>
<text x="0" y="0" font-family='"Liberation Serif", serif' font-size="11.9" text-anchor="middle" stroke="#000" stroke-width="0.18" transform="translate(378.53,443.6) scale(1.16,1)">1</text>
<text x="0" y="0" font-family='"Liberation Serif", serif' font-size="11.9" text-anchor="middle" stroke="#000" stroke-width="0.18" transform="translate(442.67,443.6) scale(1.16,1)">10</text>
<text x="0" y="0" font-family='"Liberation Serif", serif' font-size="11.9" text-anchor="middle" stroke="#000" stroke-width="0.18" transform="translate(506.80,443.6) scale(1.16,1)">100</text>
<text x="410.50" y="460.30" font-family='"Liberation Serif", serif' font-size="14" font-weight="bold" text-anchor="middle" letter-spacing="0.55">Arsenite (&#181;M)</text>
<text x="0" y="0" font-family='"Liberation Serif", serif' font-size="15.5" font-weight="bold" text-anchor="middle" transform="translate(273.3,349.8) rotate(-90)">Survival Fraction  (%)</text>
<text x="148.00" y="217.30" font-family='"Liberation Serif", serif' font-size="15.5" font-weight="bold" text-anchor="middle" >Day</text>
<text x="417.00" y="207.90" font-family='"Liberation Serif", serif' font-size="15.5" font-weight="bold" text-anchor="middle" >Day</text>
<text x="149.00" y="464.00" font-family='"Liberation Serif", serif' font-size="15.5" font-weight="bold" text-anchor="middle" >Day</text>
<text x="0" y="0" font-family='"Liberation Serif", serif' font-size="15.8" font-weight="bold" text-anchor="middle" transform="translate(21.0,97.7) rotate(-90)">OD570</text>
<text x="0" y="0" font-family='"Liberation Serif", serif' font-size="15.8" font-weight="bold" text-anchor="middle" transform="translate(285.5,90.7) rotate(-90)">OD570</text>
<text x="0" y="0" font-family='"Liberation Serif", serif' font-size="15.2" font-weight="bold" text-anchor="middle" transform="translate(12.8,341.3) rotate(-90)">OD570</text>
</svg>
</body></html>
